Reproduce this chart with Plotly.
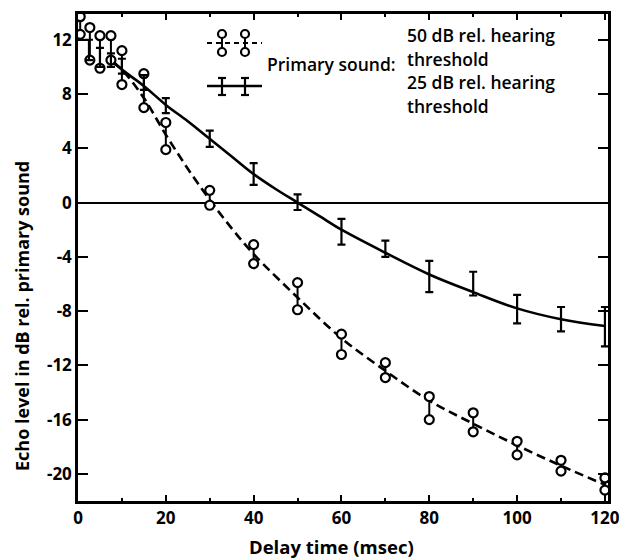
import plotly.graph_objects as go

# ---- data ----
# 50 dB primary sound: pairs of measurements (dumbbells)
x50 = [0.5, 2.7, 5, 7.5, 10, 15, 20, 30, 40, 50, 60, 70, 80, 90, 100, 110, 120]
hi50 = [13.7, 12.9, 12.3, 12.3, 11.2, 9.5, 5.9, 0.9, -3.1, -5.9, -9.7, -11.8, -14.3, -15.5, -17.6, -19.0, -20.3]
lo50 = [12.4, 10.5, 9.9, 10.5, 8.7, 7.0, 3.9, -0.2, -4.5, -7.9, -11.2, -12.9, -16.0, -16.9, -18.6, -19.8, -21.2]

# 25 dB primary sound: ranges (error bars)
x25 = [2.5, 5, 7.5, 10, 15, 20, 30, 40, 50, 60, 70, 80, 90, 100, 110, 120]
hi25 = [12.0, 11.4, 11.0, 10.6, 9.4, 7.7, 5.3, 2.9, 0.6, -1.2, -2.8, -4.3, -5.1, -6.8, -7.7, -7.7]
lo25 = [10.5, 10.0, 10.0, 9.5, 8.3, 6.6, 4.1, 1.3, -0.55, -3.1, -4.0, -6.6, -6.85, -8.9, -9.5, -10.6]

# fitted curves
xc50 = [8, 10, 15, 20, 25, 30, 35, 40, 50, 60, 70, 80, 90, 100, 110, 120]
yc50 = [10.3, 9.8, 7.7, 5.0, 2.5, 0.2, -1.9, -3.8, -7.0, -10.0, -12.4, -14.6, -16.3, -17.9, -19.4, -20.8]
xc25 = [8, 10, 15, 20, 25, 30, 35, 40, 45, 50, 55, 60, 70, 80, 90, 100, 110, 120]
yc25 = [10.4, 9.8, 8.6, 7.2, 6.0, 4.7, 3.4, 2.1, 1.0, 0.0, -1.0, -2.0, -3.7, -5.3, -6.6, -7.8, -8.6, -9.1]

x_ticks = [0, 20, 40, 60, 80, 100, 120]
y_ticks = [-20, -16, -12, -8, -4, 0, 4, 8, 12]

legend_lines = ["50 dB rel. hearing", "threshold", "25 dB rel. hearing", "threshold"]

FONT = "Open Sans"
fig = go.Figure()

# curves
fig.add_trace(go.Scatter(x=xc50, y=yc50, mode="lines", line=dict(color="black", width=2.6, dash="9px,5px", shape="spline", smoothing=1.0), hoverinfo="skip"))
fig.add_trace(go.Scatter(x=xc25, y=yc25, mode="lines", line=dict(color="black", width=2.6, shape="spline", smoothing=1.0), hoverinfo="skip"))

# dumbbells for 50 dB
dx, dy = [], []
for xv, h, l in zip(x50, hi50, lo50):
    dx += [xv, xv, None]
    dy += [h, l, None]
fig.add_trace(go.Scatter(x=dx, y=dy, mode="lines+markers", line=dict(color="black", width=2),
                         marker=dict(symbol="circle", size=9, color="white", line=dict(color="black", width=2.2))))

# error bars for 25 dB
mid25 = [(h + l) / 2 for h, l in zip(hi25, lo25)]
fig.add_trace(go.Scatter(x=x25, y=mid25, mode="markers", marker=dict(size=1, color="rgba(0,0,0,0)"),
                         error_y=dict(type="data", symmetric=False,
                                      array=[h - m for h, m in zip(hi25, mid25)],
                                      arrayminus=[m - l for l, m in zip(lo25, mid25)],
                                      color="black", thickness=2.2, width=4)))

# ---- legend drawn manually (paper coords) ----
L, R, T, B = 78, 608, 14, 501
def px(x):
    return (x - L) / (R - L)
def py(y):
    return (B - y) / (B - T)

shapes = []
# dashed line with dumbbells
shapes.append(dict(type="line", xref="paper", yref="paper", x0=px(207), x1=px(262), y0=py(43), y1=py(43),
                   line=dict(color="black", width=2.2, dash="5px,4px")))
for cx in (222, 245):
    shapes.append(dict(type="line", xref="paper", yref="paper", x0=px(cx), x1=px(cx), y0=py(34), y1=py(52),
                       line=dict(color="black", width=2)))
    for cy in (34, 52):
        shapes.append(dict(type="circle", xref="paper", yref="paper", x0=px(cx - 4), x1=px(cx + 4),
                           y0=py(cy + 4), y1=py(cy - 4), fillcolor="white", line=dict(color="black", width=2.2)))
# solid line with error bars
shapes.append(dict(type="line", xref="paper", yref="paper", x0=px(207), x1=px(262), y0=py(86), y1=py(86),
                   line=dict(color="black", width=2.4)))
for cx in (222, 245):
    shapes.append(dict(type="line", xref="paper", yref="paper", x0=px(cx), x1=px(cx), y0=py(78), y1=py(95),
                       line=dict(color="black", width=2.2)))
    for cy in (78, 95):
        shapes.append(dict(type="line", xref="paper", yref="paper", x0=px(cx - 4), x1=px(cx + 4), y0=py(cy), y1=py(cy),
                           line=dict(color="black", width=2.2)))

LEG = dict(family=FONT, size=17.5, color="black", weight=600)
annotations = [
    dict(text="Primary sound:", x=px(266), y=py(64), xref="paper", yref="paper", xanchor="left", yanchor="middle",
         showarrow=False, font=LEG, borderpad=0),
    dict(text="<b>Echo level in dB rel. primary sound</b>", x=px(22), y=py(316), xref="paper", yref="paper",
         xanchor="center", yanchor="middle", textangle=-90, showarrow=False,
         font=dict(family=FONT, size=18, color="black")),
    dict(text="<b>Delay time (msec)</b>", x=px(331), y=py(546), xref="paper", yref="paper",
         xanchor="center", yanchor="middle", showarrow=False, borderpad=0,
         font=dict(family=FONT, size=18.5, color="black")),
]
for txt, ypix in zip(legend_lines, [35, 58.5, 82, 105.5]):
    annotations.append(dict(text=txt, x=px(406), y=py(ypix), xref="paper", yref="paper", xanchor="left",
                            yanchor="middle", showarrow=False, font=LEG, borderpad=0))

fig.update_layout(
    width=619, height=560,
    margin=dict(l=L, r=619 - R, t=T, b=560 - B, autoexpand=False),
    paper_bgcolor="white", plot_bgcolor="white",
    showlegend=False,
    shapes=shapes, annotations=annotations,
    font=dict(family=FONT, color="black"),
)
fig.update_xaxes(range=[0, 120.7], tickvals=x_ticks, ticktext=[f"<b>{v}</b>" for v in x_ticks],
                 ticks="inside", ticklen=6, tickwidth=2, tickcolor="black",
                 minor=dict(tickvals=[10, 30, 50, 70, 90, 110], ticks="inside", ticklen=3, tickwidth=2, tickcolor="black"),
                 showline=True, linewidth=2.5, linecolor="black", mirror="ticks",
                 showgrid=False, zeroline=False, automargin=False, ticklabeloverflow="allow",
                 tickfont=dict(family=FONT, size=17, color="black"))
fig.update_yaxes(range=[-22.0, 13.9], tickvals=y_ticks, ticktext=[f"<b>{v}</b>" for v in y_ticks],
                 ticks="inside", ticklen=10, tickwidth=2, tickcolor="black",
                 showline=True, linewidth=2.5, linecolor="black", mirror="ticks",
                 showgrid=False, zeroline=True, zerolinecolor="black", zerolinewidth=2.2, automargin=False,
                 ticklabeloverflow="allow",
                 tickfont=dict(family=FONT, size=17, color="black"))

fig.write_html("out.html")
